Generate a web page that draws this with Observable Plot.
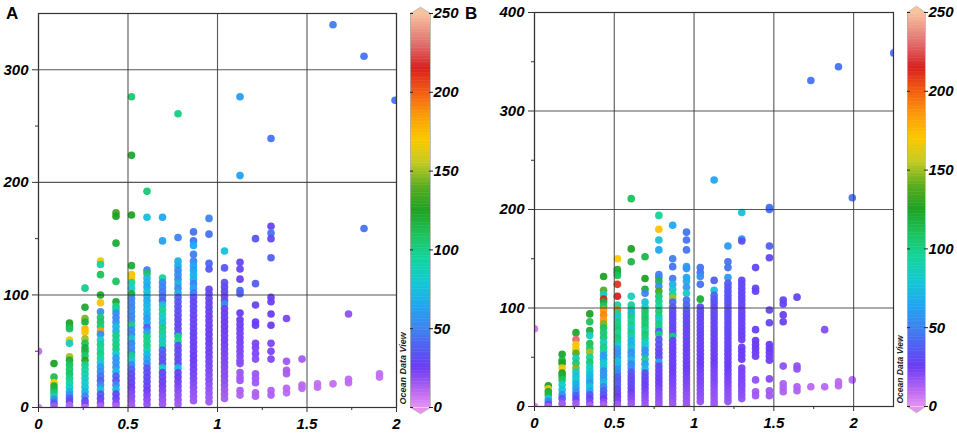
<!DOCTYPE html>
<html><head><meta charset="utf-8">
<script src="https://cdn.jsdelivr.net/npm/d3@7"></script>
<script src="https://cdn.jsdelivr.net/npm/@observablehq/plot@0.6"></script>
<style>
body{margin:0;background:#fff;}
#wrap{position:relative;width:957px;height:435px;overflow:hidden;font-family:"Liberation Sans",Arial,sans-serif;}
#wrap svg{position:absolute;top:0;}
.lbl{position:absolute;font-weight:bold;font-size:17px;line-height:1;color:#000;}
</style></head><body><div id="wrap"></div>
<script>
// column spacing on the x axis
const xStep = 0.0866;

// Panel A: [column index, [[y, colourValue], ...]]
const colsA = [
 [0, [[50,8],[0,3]]],
 [1, [[39,125],[27,112],[22,170],[19,120],[16,115],[13,105],[10,85],[7,55],[4,35],[1,15]]],
 [2, [[75,125],[72,120],[70,110],[60,165],[57,85],[45,150],[42,120],[38,110],[34,105],[30,110],[26,100],[22,95],[18,85],[14,70],[11,55],[8,38],[5,28],[2,12]]],
 [3, [[106,100],[89,122],[79,145],[76,118],[70,175],[67,172],[61,150],[57,110],[53,120],[50,118],[46,105],[42,128],[38,100],[34,95],[30,90],[26,85],[22,82],[18,78],[14,70],[10,50],[6,32],[3,22],[0,10]]],
 [4, [[130,165],[127,92],[118,110],[100,122],[93,172],[85,55],[80,105],[76,108],[72,102],[68,185],[65,55],[60,80],[56,100],[52,95],[48,100],[44,95],[40,80],[36,60],[32,55],[28,45],[24,38],[20,52],[16,75],[12,35],[8,30],[4,22],[1,12]]],
 [5, [[173,135],[170,125],[146,120],[112,108],[94,122],[90,100],[87,95],[84,55],[80,52],[76,55],[72,72],[68,70],[64,100],[60,98],[56,100],[52,102],[48,80],[44,60],[40,58],[36,55],[32,72],[28,40],[24,35],[20,52],[16,72],[12,30],[8,28],[4,20],[1,12]]],
 [6, [[276,105],[224,122],[171,125],[126,120],[118,172],[115,170],[111,95],[106,80],[101,120],[97,50],[93,52],[89,50],[85,55],[81,50],[77,52],[73,100],[69,55],[65,52],[61,78],[57,50],[53,55],[49,50],[46,100],[42,78],[38,52],[34,40],[30,32],[26,30],[22,28],[18,25],[14,22],[10,20],[6,18],[2,15]]],
 [7, [[192,105],[169,75],[122,48],[119,110],[115,72],[111,70],[107,65],[103,75],[99,72],[95,65],[91,70],[87,72],[83,68],[79,60],[75,65],[71,38],[67,60],[63,100],[59,98],[55,100],[51,90],[47,72],[43,65],[39,55],[35,35],[31,32],[27,30],[23,30],[19,28],[15,25],[11,22],[7,20],[3,18]]],
 [8, [[169,65],[148,62],[115,95],[111,52],[107,50],[103,48],[99,45],[95,38],[91,75],[87,95],[83,92],[79,80],[75,75],[71,100],[67,98],[63,88],[59,85],[55,90],[51,40],[47,35],[43,32],[39,32],[35,82],[31,30],[27,28],[23,26],[19,24],[15,22],[11,20],[7,18],[3,16]]],
 [9, [[261,100],[151,50],[130,70],[126,68],[122,55],[118,55],[114,52],[110,70],[106,52],[102,68],[98,40],[94,35],[90,33],[86,32],[82,32],[78,30],[74,30],[70,30],[66,32],[63,100],[59,98],[55,32],[51,30],[47,30],[43,30],[39,30],[35,72],[31,28],[27,25],[23,24],[19,22],[15,20],[11,18],[7,17],[3,15]]],
 [10, [[156,45],[148,45],[144,65],[136,48],[130,50],[126,65],[122,62],[118,70],[114,70],[110,48],[106,62],[102,48],[98,32],[94,30],[90,30],[86,30],[82,28],[78,28],[74,28],[70,28],[66,27],[62,27],[58,27],[54,26],[50,26],[46,25],[42,25],[38,24],[34,24],[30,23],[26,22],[22,21],[18,20],[14,18],[10,17],[6,16]]],
 [11, [[168,50],[154,45],[128,42],[123,36],[105,30],[101,28],[97,28],[93,27],[89,27],[85,27],[81,26],[77,26],[73,26],[69,26],[65,25],[61,25],[57,25],[53,24],[49,24],[45,24],[41,23],[37,23],[33,22],[29,21],[25,20],[21,19],[17,18],[13,17],[9,16],[5,15]]],
 [12, [[139,75],[124,35],[111,32],[107,30],[103,30],[99,28],[95,28],[92,55],[88,28],[84,26],[80,26],[76,25],[72,25],[68,25],[64,24],[60,24],[56,24],[52,23],[48,23],[44,22],[40,22],[36,21],[32,20],[28,20],[24,19],[20,18],[16,16],[12,15],[8,14]]],
 [13, [[276,60],[206,62],[129,28],[123,28],[114,26],[104,40],[101,38],[84,25],[78,25],[74,24],[70,24],[66,23],[62,23],[58,23],[54,22],[50,22],[46,21],[42,20],[39,20],[31,16],[27,15],[24,15],[15,13],[11,12]]],
 [14, [[150,35],[110,38],[91,28],[76,25],[73,25],[57,22],[53,22],[48,21],[43,20],[30,16],[26,15],[22,15],[13,12],[10,12]]],
 [15, [[239,45],[161,28],[155,45],[150,28],[133,38],[98,26],[94,26],[83,25],[73,25],[57,22],[50,22],[43,21],[15,12],[11,12]]],
 [16, [[79,22],[41,15],[33,14],[30,14],[17,10],[13,10]]],
 [17, [[43,14],[20,10],[17,10]]],
 [18, [[21,8],[18,8]]],
 [19, [[340,48],[21,8]]],
 [20, [[83,18],[25,9],[22,9]]],
 [21, [[312,45],[159,45]]],
 [22, [[30,8],[27,8]]],
 [23, [[273,45]]]
];

// Panel B: [column index, [[y, colourValue], ...]]
const colsB = [
 [0, [[79,6],[0,3]]],
 [1, [[21,125],[18,165],[15,120],[12,115],[8,78],[5,50],[2,28],[0,12]]],
 [2, [[53,122],[47,115],[44,125],[39,165],[34,125],[31,120],[27,110],[22,82],[17,75],[12,55],[8,35],[3,15]]],
 [3, [[75,122],[68,230],[63,172],[58,165],[54,140],[49,85],[44,105],[39,145],[35,85],[31,75],[27,80],[23,68],[19,65],[15,55],[11,38],[7,28],[3,15]]],
 [4, [[94,125],[86,110],[77,120],[72,85],[64,112],[59,105],[55,150],[50,95],[45,105],[40,85],[36,80],[32,72],[28,70],[24,60],[20,75],[16,65],[12,35],[8,30],[4,20],[1,12]]],
 [5, [[132,125],[118,140],[114,85],[109,215],[106,120],[102,108],[98,185],[93,190],[88,185],[84,145],[80,110],[75,105],[70,105],[65,85],[60,100],[56,95],[52,60],[48,62],[44,80],[40,78],[36,55],[32,58],[28,60],[24,75],[20,50],[16,40],[12,35],[8,25],[4,18],[1,12]]],
 [6, [[150,170],[139,122],[136,120],[133,110],[124,210],[112,215],[103,95],[98,195],[94,95],[90,80],[86,100],[82,100],[78,105],[74,95],[70,105],[66,100],[62,80],[58,60],[54,55],[50,58],[46,75],[42,72],[38,55],[34,50],[30,38],[26,35],[22,40],[18,30],[14,30],[10,25],[6,22],[2,15]]],
 [7, [[211,110],[160,125],[147,115],[112,85],[103,90],[99,100],[95,70],[91,100],[87,95],[83,98],[79,80],[75,100],[71,85],[67,72],[63,70],[59,78],[55,55],[51,60],[47,75],[43,50],[39,55],[35,35],[31,32],[27,30],[23,30],[19,28],[15,25],[11,22],[7,20],[3,16]]],
 [8, [[152,115],[130,125],[119,120],[115,50],[106,75],[101,80],[97,110],[93,105],[89,108],[85,105],[81,105],[77,95],[73,105],[69,100],[65,85],[61,80],[57,55],[53,58],[48,100],[43,62],[38,75],[34,32],[30,30],[26,28],[22,26],[18,24],[14,22],[10,20],[6,18],[2,16]]],
 [9, [[194,95],[180,172],[169,75],[159,65],[134,50],[131,50],[127,115],[122,55],[117,135],[112,105],[107,100],[102,95],[97,105],[92,102],[88,80],[84,100],[80,98],[76,35],[73,100],[68,35],[63,33],[58,30],[54,30],[50,30],[45,62],[41,30],[37,28],[33,27],[29,26],[25,25],[21,24],[17,22],[13,20],[9,19],[5,18],[2,16]]],
 [10, [[184,65],[150,48],[142,45],[130,48],[124,70],[119,75],[114,95],[110,150],[106,42],[101,36],[97,32],[93,30],[89,30],[85,30],[81,30],[77,28],[73,28],[71,100],[67,28],[63,28],[59,27],[55,27],[51,26],[47,26],[43,26],[39,25],[35,25],[31,24],[27,23],[23,22],[19,21],[15,20],[11,19],[7,18],[3,16]]],
 [11, [[177,45],[169,45],[159,45],[142,60],[140,58],[131,65],[127,68],[121,60],[115,85],[108,45],[103,40],[98,38],[94,32],[90,30],[86,30],[82,30],[78,28],[74,28],[70,28],[66,28],[62,27],[58,27],[54,26],[50,26],[46,26],[42,25],[38,25],[34,24],[30,23],[26,22],[22,21],[18,20],[14,19],[10,18],[6,17],[2,16]]],
 [12, [[141,45],[136,45],[132,55],[124,45],[109,120],[101,30],[97,30],[93,30],[89,28],[85,28],[81,28],[77,28],[73,27],[69,27],[65,27],[61,26],[57,26],[53,26],[49,25],[45,25],[41,25],[37,24],[33,23],[29,22],[25,22],[21,21],[17,20],[13,19],[9,18],[5,17]]],
 [13, [[230,65],[128,38],[118,75],[113,40],[109,35],[105,32],[101,30],[97,30],[93,30],[89,29],[85,29],[81,28],[77,28],[73,28],[69,27],[65,27],[61,27],[57,26],[53,26],[49,25],[45,25],[41,24],[37,23],[33,22],[29,22],[25,21],[21,20],[17,19],[13,18],[9,17],[5,16],[2,15]]],
 [14, [[163,60],[147,45],[141,45],[131,60],[125,35],[121,35],[117,34],[113,34],[109,33],[105,33],[101,32],[97,32],[93,31],[89,31],[85,30],[81,30],[77,30],[73,29],[69,29],[65,28],[61,28],[57,27],[53,27],[49,26],[45,26],[41,25],[37,25],[33,24],[29,23],[25,22],[21,21],[17,20],[13,19],[9,18],[5,17]]],
 [15, [[197,75],[170,60],[168,32],[128,30],[124,30],[120,30],[116,29],[112,29],[108,29],[104,28],[100,28],[96,28],[92,28],[88,27],[84,27],[80,27],[76,27],[72,26],[68,26],[60,25],[56,25],[52,25],[48,25],[39,23],[35,23],[31,22],[27,22],[23,21],[20,20],[16,20],[12,19],[8,18]]],
 [16, [[141,30],[120,28],[117,28],[78,27],[67,25],[63,25],[59,25],[55,24],[51,24],[27,18],[15,15],[11,15]]],
 [17, [[202,45],[200,45],[163,38],[151,30],[98,28],[85,28],[63,25],[59,25],[55,25],[51,24],[47,24],[28,20],[16,15],[11,15]]],
 [18, [[108,28],[104,28],[93,27],[86,27],[41,18],[23,12],[19,12],[15,12]]],
 [19, [[111,28],[41,18],[38,18],[20,12],[16,12]]],
 [20, [[331,45],[20,10]]],
 [21, [[78,20],[20,10]]],
 [22, [[345,45],[25,10],[21,10]]],
 [23, [[212,45],[27,10]]],
 [26, [[359,45]]]
];

// ODV-like colour palette
const colorStops  = [0, 10, 25, 40, 50, 65, 80, 95, 110, 125, 140, 155, 170, 185, 200, 215, 230, 250];
const colorValues = ["#e690f2","#b868f2","#6c3cf4","#4c64f2","#3e84f0","#1ea8f0","#14cad0","#14d49a","#1cc25a","#1ea224","#5aac1e","#c4ca22","#fcc800","#fc9a08","#f45c10","#d82020","#e06c6c","#f8c4a0"];

const barTicks = [0, 50, 100, 150, 200, 250];
const xTicks = [0, 0.5, 1, 1.5, 2];
const xMinor = [0.25, 0.75, 1.25, 1.75];
const yTicksA = [0, 100, 200, 300];
const yMinorA = [50, 150, 250];
const yTicksB = [0, 100, 200, 300, 400];
const yMinorB = [50, 150, 250, 350];
const barLabel = "Ocean Data View";
// colour-bar outline (value units): bar 0..250 with pointed ends
const barOutline = [[0,0],[0,250],[0.5,254],[1,250],[1,0],[0.5,-4],[0,0]];
const barTipTop = [[0,250],[0.5,254],[1,250]];
const barTipBottom = [[0,0],[0.5,-4],[1,0]];

const colorScale = {type: "linear", domain: colorStops, range: colorValues, interpolate: "rgb"};
const fontStyle = {fontFamily: "'Liberation Sans', Arial, sans-serif", fontSize: "15px", fontWeight: "bold", fontStyle: "italic", color: "#000", background: "transparent", overflow: "visible"};
const fmt = d => String(d);

function flatten(cols) {
  const out = [];
  for (const [k, pts] of cols) for (const [y, c] of pts) out.push({x: k * xStep, y, c});
  return out;
}

function panel({cols, width, left, ml, mr, mt, mb, xmax, ymax, yTicks, yMinor, r}) {
  const svg = Plot.plot({
    width, height: 435, marginLeft: ml, marginRight: mr, marginTop: mt, marginBottom: mb,
    x: {domain: [0, xmax], label: null},
    y: {domain: [0, ymax], label: null},
    color: colorScale,
    style: fontStyle,
    marks: [
      Plot.dot(flatten(cols), {x: "x", y: "y", fill: "c", r, fillOpacity: 0.95, clip: true}),
      Plot.gridX(xTicks, {stroke: "#3a3a3a", strokeOpacity: 0.85, strokeWidth: 1.1}),
      Plot.gridY(yTicks, {stroke: "#3a3a3a", strokeOpacity: 0.85, strokeWidth: 1.1}),
      Plot.frame({stroke: "#333", strokeWidth: 1.2}),
      Plot.axisX(xTicks, {tickSize: 5, tickPadding: 6, tickFormat: fmt, label: null, stroke: "#333"}),
      Plot.axisX(xMinor, {tickSize: 3, tickFormat: () => "", label: null, stroke: "#333"}),
      Plot.axisY(yTicks, {tickSize: 6, tickPadding: 4, tickFormat: fmt, label: null, stroke: "#333"}),
      Plot.axisY(yMinor, {tickSize: 3, tickFormat: () => "", label: null, stroke: "#333"})
    ]
  });
  svg.style.left = left + "px";
  return svg;
}

function colorbar({left, width, barW, mt, mb, textSize, textDx}) {
  const bins = d3.range(0, 250, 1);
  const pts = a => a.map(([x, y]) => ({x, y}));
  const svg = Plot.plot({
    width, height: 435, marginLeft: 12, marginRight: width - 12 - barW, marginTop: mt, marginBottom: mb,
    x: {domain: [0, 1], axis: null},
    y: {domain: [0, 250], label: null},
    color: colorScale,
    style: fontStyle,
    marks: [
      Plot.rect(bins, {x1: () => 0, x2: () => 1, y1: d => d, y2: d => d + 1.3, fill: d => d + 0.5}),
      Plot.line(pts(barTipTop), {x: "x", y: "y", fill: colorValues[colorValues.length - 1], stroke: "none"}),
      Plot.line(pts(barTipBottom), {x: "x", y: "y", fill: colorValues[0], stroke: "none"}),
      Plot.line(pts(barOutline), {x: "x", y: "y", stroke: "#b0b0b0", strokeWidth: 0.8}),
      Plot.axisY(barTicks, {anchor: "right", tickSize: 4, tickPadding: 1, tickFormat: fmt, label: null, stroke: "#222", dx: -2}),
      Plot.axisY(barTicks, {anchor: "left", tickSize: -3, tickFormat: () => "", label: null, stroke: "#222"}),
      Plot.text([barLabel], {frameAnchor: "bottom-left", rotate: -90, textAnchor: "start", dx: textDx, dy: -3,
        fontSize: textSize, fontStyle: "italic", fontWeight: "bold", fill: "#222"})
    ]
  });
  svg.style.left = left + "px";
  return svg;
}

const wrap = document.getElementById("wrap");
wrap.append(panel({cols: colsA, width: 400, left: 0, ml: 38, mr: 4, mt: 13, mb: 28, xmax: 2, ymax: 350, yTicks: yTicksA, yMinor: yMinorA, r: 3.8}));
wrap.append(colorbar({left: 398, width: 64, barW: 20, mt: 13, mb: 28, textSize: 9, textDx: -5}));
wrap.append(panel({cols: colsB, width: 415, left: 480, ml: 54, mr: 2, mt: 12, mb: 29, xmax: 2.25, ymax: 400, yTicks: yTicksB, yMinor: yMinorB, r: 3.8}));
wrap.append(colorbar({left: 895, width: 62, barW: 18, mt: 12, mb: 29, textSize: 8.5, textDx: -4.5}));

for (const [t, x] of [["A", 6], ["B", 465]]) {
  const d = document.createElement("div");
  d.className = "lbl"; d.textContent = t;
  d.style.left = x + "px"; d.style.top = "5px";
  wrap.append(d);
}
</script></body></html>
